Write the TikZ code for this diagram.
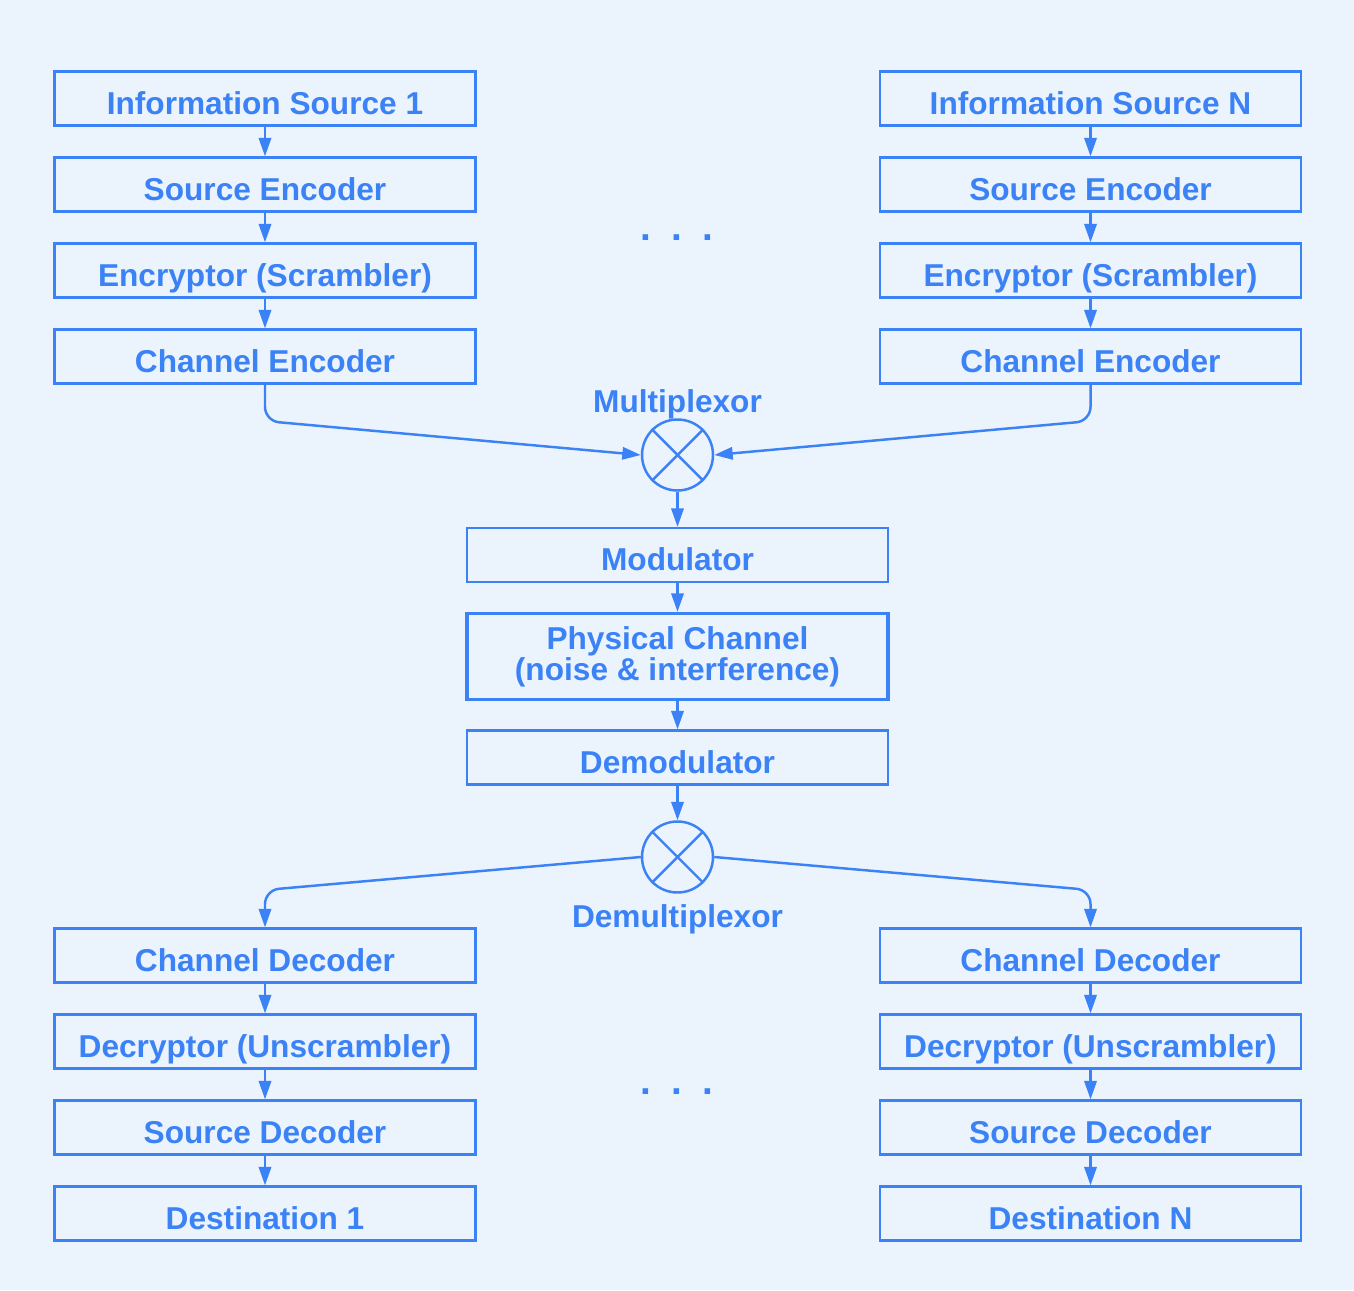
\documentclass[tikz,border=0pt]{standalone}
\usepackage{fontspec}
\setmainfont{Liberation Sans}
\usetikzlibrary{arrows.meta,positioning}
\definecolor{ink}{HTML}{3B82F6}
\definecolor{paper}{HTML}{EBF3FD}

\begin{document}
\begin{tikzpicture}[x=0.02cm,y=-0.02cm,
   every node/.style={font=\fontsize{18}{16.5}\selectfont\bfseries,text=ink},
   block/.style={draw=ink,line width=1.3pt,minimum width=8.42cm,minimum height=1.08cm,
      inner sep=0pt,text height=18pt,text depth=0pt},
   chan/.style={draw=ink,line width=1.9pt,minimum width=8.42cm,minimum height=1.72cm,
      inner sep=0pt,align=center},
   mixer/.style={draw=ink,line width=1.4pt,circle,minimum size=1.42cm,inner sep=0pt},
   dots/.style={font=\fontsize{22}{22}\selectfont\bfseries},
   arr/.style={draw=ink,line width=1.4pt,-{Triangle[length=10.5pt,width=7pt]}},
   link/.style={arr,rounded corners=8pt}]
\fill[paper] (0,0) rectangle (1354,1290);
\useasboundingbox (0,0) rectangle (1354,1290);

\node[block] (is1) at (265,98.5) {Information Source 1};
\node[block] (se1) at (265,184.5) {Source Encoder};
\node[block] (enc1) at (265,270.5) {Encryptor (Scrambler)};
\node[block] (ce1) at (265,356.5) {Channel Encoder};

\node[block] (isn) at (1090.5,98.5) {Information Source N};
\node[block] (sen) at (1090.5,184.5) {Source Encoder};
\node[block] (encn) at (1090.5,270.5) {Encryptor (Scrambler)};
\node[block] (cen) at (1090.5,356.5) {Channel Encoder};

\node[dots] (topdots) at (677,238) {.\hspace{0.52em}.\hspace{0.52em}.};

\node[mixer] (mux) at (677.5,455) {};
\node (muxlbl) at (677.5,404) {Multiplexor};
\draw[ink,line width=1.4pt] (mux.45) -- (mux.225) (mux.135) -- (mux.315);

\node[block] (mod) at (677.5,555) {Modulator};
\node[chan] (pch) at (677.5,656.5) {Physical Channel\\(noise \& interference)};
\node[block] (demod) at (677.5,757.5) {Demodulator};

\node[mixer] (dmx) at (677.5,857) {};
\node (dmxlbl) at (677.5,919) {Demultiplexor};
\draw[ink,line width=1.4pt] (dmx.45) -- (dmx.225) (dmx.135) -- (dmx.315);

\node[block] (cd1) at (265,955.5) {Channel Decoder};
\node[block] (dec1) at (265,1041.5) {Decryptor (Unscrambler)};
\node[block] (sd1) at (265,1127.5) {Source Decoder};
\node[block] (dst1) at (265,1213.5) {Destination 1};

\node[block] (cdn) at (1090.5,955.5) {Channel Decoder};
\node[block] (decn) at (1090.5,1041.5) {Decryptor (Unscrambler)};
\node[block] (sdn) at (1090.5,1127.5) {Source Decoder};
\node[block] (dstn) at (1090.5,1213.5) {Destination N};

\node[dots] (botdots) at (677,1092) {.\hspace{0.52em}.\hspace{0.52em}.};

\draw[arr] (is1) -- (se1);
\draw[arr] (se1) -- (enc1);
\draw[arr] (enc1) -- (ce1);
\draw[arr] (isn) -- (sen);
\draw[arr] (sen) -- (encn);
\draw[arr] (encn) -- (cen);

\draw[link] (ce1.south) -- (ce1.south |- 0,421) -- (mux.west);
\draw[link] (cen.south) -- (cen.south |- 0,421) -- (mux.east);

\draw[arr] (mux) -- (mod);
\draw[arr] (mod) -- (pch);
\draw[arr] (pch) -- (demod);
\draw[arr] (demod) -- (dmx);

\draw[link] (dmx.west) -- (cd1.north |- 0,890) -- (cd1.north);
\draw[link] (dmx.east) -- (cdn.north |- 0,890) -- (cdn.north);

\draw[arr] (cd1) -- (dec1);
\draw[arr] (dec1) -- (sd1);
\draw[arr] (sd1) -- (dst1);
\draw[arr] (cdn) -- (decn);
\draw[arr] (decn) -- (sdn);
\draw[arr] (sdn) -- (dstn);
\end{tikzpicture}
\end{document}
